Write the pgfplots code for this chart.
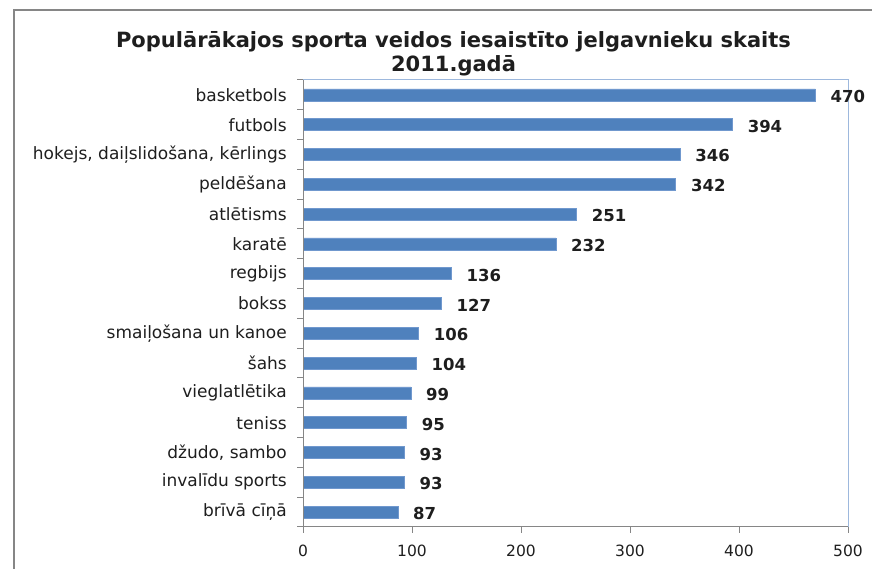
\documentclass[border=0pt]{standalone}
\usepackage{fontspec}
\setmainfont{DejaVu Sans}
\usepackage{pgfplots}
\pgfplotsset{compat=1.18}
\definecolor{barblue}{RGB}{79,129,189}
\definecolor{baredge}{RGB}{112,152,206}
\definecolor{frameblue}{RGB}{157,184,221}
\definecolor{axgray}{RGB}{134,134,134}
\definecolor{txt}{RGB}{30,30,30}
\begin{document}
\begin{tikzpicture}[x=1bp,y=1bp]
\path[use as bounding box] (0,0) rectangle (872,569);
\draw[axgray, line width=1.2bp] (14,0) -- (14,559) -- (872,559);
\node[font=\fontsize{21bp}{24bp}\selectfont\bfseries, anchor=base, inner sep=0pt, text=txt] at (453.5,521) {Populārākajos sporta veidos iesaistīto jelgavnieku skaits};
\node[font=\fontsize{21bp}{24bp}\selectfont\bfseries, anchor=base, inner sep=0pt, text=txt] at (453.5,497) {2011.gadā};
\begin{axis}[
  at={(303bp,42bp)}, anchor=south west,
  scale only axis, width=545bp, height=447bp,
  xbar, bar width=12bp,
  xmin=0, xmax=500, ymin=-0.5, ymax=14.5,
  xtick={0,100,...,500},
  ytick={0,...,14},
  yticklabels={brīvā cīņā, invalīdu sports, {džudo, sambo}, teniss, vieglatlētika, šahs, smaiļošana un kanoe, bokss, regbijs, karatē, atlētisms, peldēšana, {hokejs, daiļslidošana, kērlings}, futbols, basketbols},
  minor ytick={-0.5,0.5,...,14.5},
  tick align=outside,
  xtick pos=left, ytick pos=left,
  major tick length=6bp, minor tick length=6bp,
  every major y tick/.style={draw=none},
  every tick/.style={axgray, line width=1bp},
  axis line style={draw=none},
  /pgf/number format/assume math mode=true,
  yticklabel style={font=\fontsize{17bp}{18bp}\selectfont, text=txt, inner sep=0pt, anchor=east, xshift=-10bp},
  xticklabel style={font=\fontsize{15.5bp}{18bp}\selectfont, text=txt, inner sep=0pt, anchor=north, yshift=-12bp},
  clip=false,
  nodes near coords,
  every node near coord/.append style={font=\fontsize{16.5bp}{18bp}\selectfont\bfseries, text=txt, anchor=west, inner sep=0pt, xshift=15bp, yshift=-1.5bp},
]
\addplot[fill=barblue, draw=baredge, line width=0.6bp] coordinates {
(87,0) (93,1) (93,2) (95,3) (99,4) (104,5) (106,6) (127,7) (136,8) (232,9) (251,10) (342,11) (346,12) (394,13) (470,14)
};
\draw[frameblue, line width=1bp] (rel axis cs:0,1) -- (rel axis cs:1,1) -- (rel axis cs:1,0);
\draw[axgray, line width=1bp] (rel axis cs:0,1) -- (rel axis cs:0,0) -- (rel axis cs:1,0);
\end{axis}
\end{tikzpicture}
\end{document}
